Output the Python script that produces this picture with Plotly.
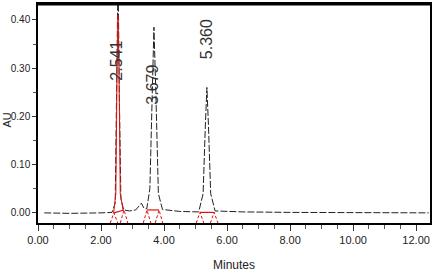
import plotly.graph_objects as go

# Chromatogram (minutes, AU)
time = [0.20, 1.00, 2.00, 2.35, 2.45, 2.50, 2.541, 2.58, 2.63, 2.72, 2.90, 3.10, 3.22, 3.28,
        3.36, 3.45, 3.55, 3.62, 3.679, 3.74, 3.82, 3.95, 4.50, 5.10, 5.24, 5.31, 5.360,
        5.41, 5.48, 5.62, 6.50, 8.00, 10.00, 12.40]
au = [0.000, -0.001, 0.000, 0.001, 0.020, 0.250, 0.500, 0.250, 0.030, 0.006, 0.004, 0.006,
      0.017, 0.020, 0.010, 0.008, 0.050, 0.250, 0.385, 0.250, 0.040, 0.007, 0.003, 0.002,
      0.040, 0.180, 0.260, 0.180, 0.040, 0.004, 0.002, 0.001, 0.000, 0.000]

# Integrated first peak (red overlay)
red_time = [2.40, 2.47, 2.51, 2.541, 2.57, 2.61, 2.70]
red_au = [0.000, 0.040, 0.300, 0.410, 0.300, 0.040, 0.006]

# Integration boundaries (start/end per peak)
bound_time = [2.41, 2.73, 3.46, 3.84, 5.14, 5.59]
bound_au = [0.000, 0.006, 0.006, 0.006, 0.001, 0.001]

# Peak labels
peak_rt = ["2.541", "3.679", "5.360"]
label_x = [2.50, 3.62, 5.33]
label_y = [0.315, 0.266, 0.360]

x_ticks = [0, 2, 4, 6, 8, 10, 12]
x_ticktext = ["0.00", "2.00", "4.00", "6.00", "8.00", "10.00", "12.00"]
y_ticks = [0.0, 0.1, 0.2, 0.3, 0.4]
y_ticktext = ["0.00", "0.10", "0.20", "0.30", "0.40"]

FONT = "Liberation Sans, Arial, sans-serif"

fig = go.Figure()
fig.add_trace(go.Scatter(x=time, y=au, mode="lines",
                         line=dict(color="#222222", width=1, dash="7px,2px"),
                         hoverinfo="skip"))
fig.add_trace(go.Scatter(x=red_time, y=red_au, mode="lines",
                         line=dict(color="#e01010", width=1), hoverinfo="skip"))

# red baseline segments
seg_x, seg_y = [], []
for i in range(0, len(bound_time), 2):
    seg_x += [bound_time[i], bound_time[i + 1], None]
    seg_y += [bound_au[i], bound_au[i + 1], None]
fig.add_trace(go.Scatter(x=seg_x, y=seg_y, mode="lines",
                         line=dict(color="#e01010", width=1.2), hoverinfo="skip"))

# red dashed tents at boundaries
spread = 0.12
bottom = -0.021
tx, ty = [], []
for t, a in zip(bound_time, bound_au):
    tx += [t - spread, t, t + spread, None]
    ty += [bottom, a, bottom, None]
fig.add_trace(go.Scatter(x=tx, y=ty, mode="lines",
                         line=dict(color="#e01010", width=1, dash="3px,2px"), hoverinfo="skip"))

for lab, lx, ly in zip(peak_rt, label_x, label_y):
    fig.add_annotation(x=lx, y=ly, text=lab, showarrow=False, textangle=-90,
                       font=dict(family="Liberation Sans, Arial, sans-serif", size=16, color="#333333"))

# y-axis title placed at the far left
fig.add_annotation(xref="paper", yref="paper", x=-0.078, y=0.47, text="AU", showarrow=False,
                   textangle=-90, xanchor="center", yanchor="middle", borderpad=0,
                   font=dict(family="Liberation Sans, sans-serif", size=11, color="#222222"))

fig.update_layout(
    width=437, height=275,
    margin=dict(l=38, r=7, t=4, b=52),
    paper_bgcolor="white", plot_bgcolor="white",
    showlegend=False,
    font=dict(family=FONT, size=10, color="#222222"),
    xaxis=dict(range=[0, 12.44], tickvals=x_ticks, ticktext=x_ticktext, automargin=False,
               showgrid=False, zeroline=False, showline=True, linecolor="black",
               linewidth=1.5, mirror=True, ticks="outside", ticklen=6, tickcolor="#333",
               tickfont=dict(size=11),
               minor=dict(dtick=0.5, ticks="outside", ticklen=4, tickcolor="#555"),
               title=dict(text="Minutes", font=dict(family=FONT, size=12), standoff=16)),
    yaxis=dict(range=[-0.021, 0.433], tickvals=y_ticks, ticktext=y_ticktext, automargin=False,
               showgrid=False, zeroline=False, showline=True, linecolor="black",
               linewidth=1.5, mirror=True, ticks="outside", ticklen=4, tickcolor="#333",
               tickfont=dict(size=10),
               minor=dict(dtick=0.05, ticks="outside", ticklen=3, tickcolor="#555")),
)
fig.add_shape(type="line", xref="paper", yref="paper", x0=0, x1=1, y0=1, y1=1,
              line=dict(color="black", width=3))

fig.write_html("out.html")
